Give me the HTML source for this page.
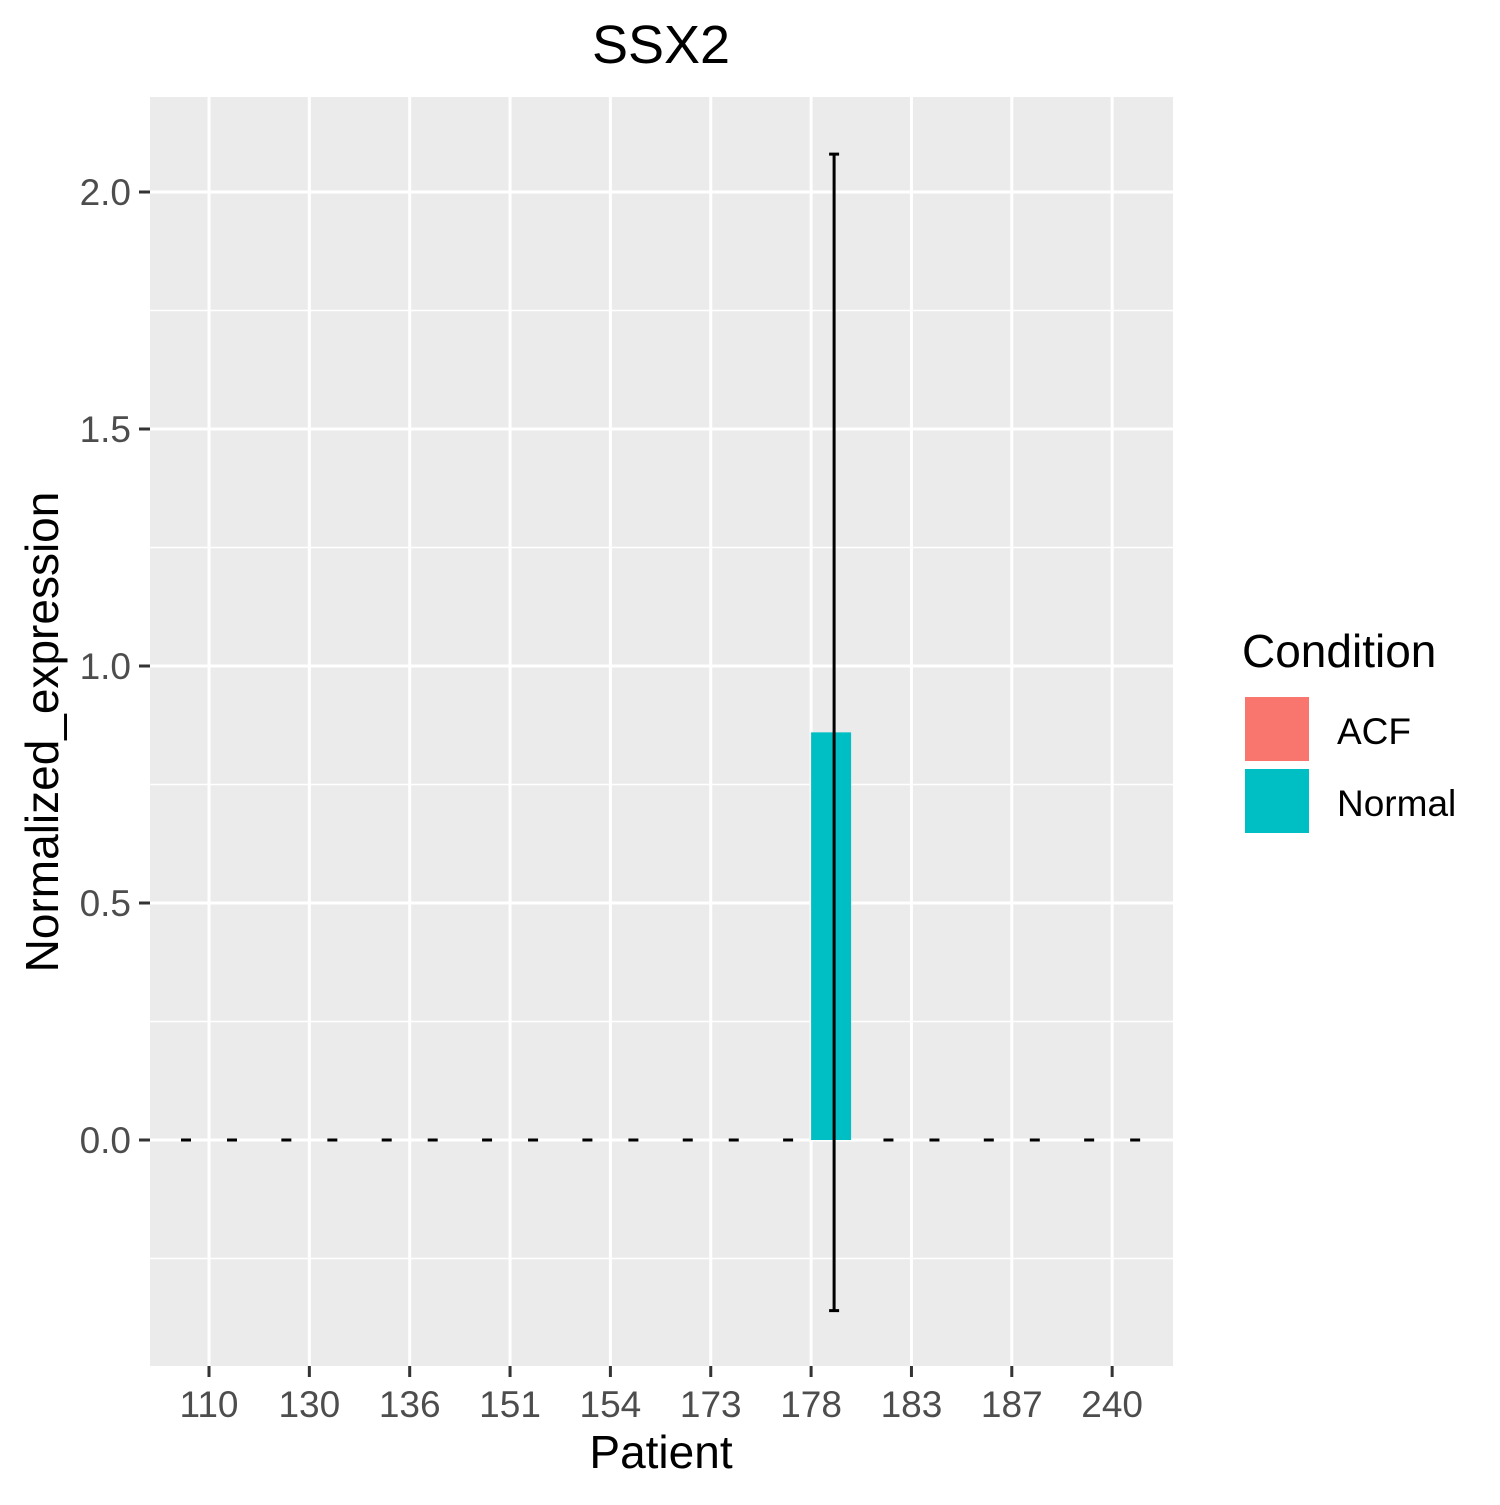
<!DOCTYPE html>
<html><head><meta charset="utf-8"><style>
body{margin:0;background:#fff}
svg text{font-family:"Liberation Sans",Arial,sans-serif}
</style></head><body>
<svg id="chart" width="1500" height="1500" viewBox="0 0 1500 1500" xmlns="http://www.w3.org/2000/svg">
<text x="661" y="63" font-size="54" text-anchor="middle" fill="#000">SSX2</text>
<rect x="150" y="97" width="1023" height="1269" fill="#ebebeb"/>
<g id="grid"></g>
<g id="bars"></g>
<g id="axes"></g>
<text x="661" y="1468" font-size="46" text-anchor="middle" fill="#000">Patient</text>
<text transform="translate(58,732) rotate(-90)" font-size="46" text-anchor="middle" fill="#000">Normalized_expression</text>
<g>
<text x="1242" y="667" font-size="46" fill="#000">Condition</text>
<rect x="1244" y="696" width="66" height="66" fill="#f8766d" stroke="#fff" stroke-width="2"/>
<text x="1337" y="744" font-size="37" fill="#000">ACF</text>
<rect x="1244" y="768" width="66" height="66" fill="#00bfc4" stroke="#fff" stroke-width="2"/>
<text x="1337" y="816" font-size="37" fill="#000">Normal</text>
</g>
</svg>
<script>
const categories=["110","130","136","151","154","173","178","183","187","240"];
const acfValues=[0,0,0,0,0,0,0,0,0,0];
const normalValues=[0,0,0,0,0,0,0.86,0,0,0];
const acfLow=[0,0,0,0,0,0,0,0,0,0];
const acfHigh=[0,0,0,0,0,0,0,0,0,0];
const normalLow=[0,0,0,0,0,0,-0.36,0,0,0];
const normalHigh=[0,0,0,0,0,0,2.08,0,0,0];
const yTicks=[0,0.5,1.0,1.5,2.0];
const yTickLabels=["0.0","0.5","1.0","1.5","2.0"];
const yMinor=[-0.25,0.25,0.75,1.25,1.75];

const NS="http://www.w3.org/2000/svg";
const y=v=>1140-v*474;
const x=i=>209+i*100.35;
function mk(tag,attrs,parent){const e=document.createElementNS(NS,tag);for(const k in attrs)e.setAttribute(k,attrs[k]);document.getElementById(parent).appendChild(e);return e;}
yMinor.forEach(v=>{const l=mk('line',{x1:150,x2:1173,y1:y(v),y2:y(v),stroke:'#fff','stroke-width':1.5},'grid');

});
yTicks.forEach((v,i)=>{const l=mk('line',{x1:150,x2:1173,y1:y(v),y2:y(v),stroke:'#fff','stroke-width':3},'grid');


const t=mk('line',{x1:139,x2:150,y1:y(v),y2:y(v),stroke:'#333','stroke-width':3},'axes');


const tx=mk('text',{x:131,y:y(v)+13,'font-size':37,'text-anchor':'end',fill:'#4d4d4d'},'axes');tx.textContent=yTickLabels[i];

});
categories.forEach((c,i)=>{const l=mk('line',{x1:x(i),x2:x(i),y1:97,y2:1366,stroke:'#fff','stroke-width':3},'grid');


const t=mk('line',{x1:x(i),x2:x(i),y1:1366,y2:1377,stroke:'#333','stroke-width':3},'axes');


const tx=mk('text',{x:x(i),y:1417,'font-size':37,'text-anchor':'middle',fill:'#4d4d4d'},'axes');tx.textContent=c;


[[acfValues,acfLow,acfHigh,-1,'#f8766d','acf'],[normalValues,normalLow,normalHigh,1,'#00bfc4','normal']].forEach(([vals,lo,hi,s,col,nm])=>{
const cx=x(i)+s*20;const v=vals[i];
if(v!==0){const r=mk('rect',{x:cx-20,y:Math.min(y(v),y(0)),width:40,height:Math.abs(y(v)-y(0)),fill:col},'bars');

}
const ex=x(i)+s*23;
const g=document.createElementNS(NS,'path');
g.setAttribute('d',`M${ex-5},${y(hi[i])}H${ex+5}M${ex},${y(hi[i])}V${y(lo[i])}M${ex-5},${y(lo[i])}H${ex+5}`);
g.setAttribute('stroke','#000');g.setAttribute('stroke-width','3');g.setAttribute('fill','none');


document.getElementById('bars').appendChild(g);});});
</script>
</body></html>
